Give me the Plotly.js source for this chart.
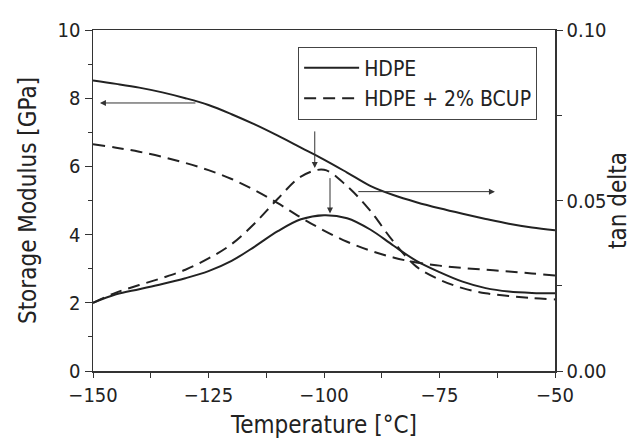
<!DOCTYPE html>
<html>
<head>
<meta charset="utf-8">
<script src="https://cdn.plot.ly/plotly-3.0.1.min.js"></script>
<style>
html,body{margin:0;padding:0;background:#fff;}
#chart{width:632px;height:444px;}
</style>
</head>
<body>
<div id="chart"></div>
<script>
// Temperature [°C]
const temps = [-150,-145,-140,-135,-130,-125,-120,-115,-110,-105,-100,-95,-90,-85,-80,-75,-70,-65,-60,-55,-50];
// Storage modulus [GPa]
const modHDPE = [8.52,8.42,8.31,8.17,8.0,7.8,7.53,7.23,6.9,6.55,6.2,5.82,5.43,5.16,4.95,4.77,4.61,4.46,4.32,4.21,4.13];
const modBCUP = [6.65,6.55,6.43,6.28,6.1,5.89,5.63,5.3,4.92,4.5,4.12,3.79,3.53,3.33,3.18,3.09,3.02,2.97,2.92,2.86,2.8];
// tan delta
const tanHDPE = [0.0200,0.0225,0.0240,0.0255,0.0272,0.0293,0.0323,0.0365,0.0410,0.0445,0.0457,0.0448,0.0415,0.0368,0.0323,0.0290,0.0262,0.0243,0.0233,0.0229,0.0228];
const tanBCUP = [0.0200,0.0230,0.0252,0.0273,0.0297,0.0330,0.0372,0.0433,0.0505,0.0570,0.0590,0.0542,0.0470,0.0380,0.0306,0.0268,0.0243,0.0228,0.0220,0.0214,0.0210];

const seriesNames = ['HDPE', 'HDPE + 2% BCUP'];
const xTickVals = [-150,-125,-100,-75,-50];
const yTickVals = [0,2,4,6,8,10];
const y2TickVals = [0,0.05,0.10];

const FONT = '"Liberation Sans Narrow", "DejaVu Sans Condensed", "Arial Narrow", sans-serif';
const solid = {color:'#222', width:2, shape:'spline', smoothing:1, dash:'solid'};
const dashed = {color:'#222', width:2, shape:'spline', smoothing:1, dash:'12px,7px'};

const traces = [
  {x:temps, y:modHDPE, mode:'lines', line:solid, name:seriesNames[0], showlegend:true, xaxis:'x', yaxis:'y'},
  {x:temps, y:modBCUP, mode:'lines', line:dashed, name:seriesNames[1], showlegend:true, xaxis:'x', yaxis:'y'},
  {x:temps, y:tanHDPE, mode:'lines', line:solid, name:seriesNames[0], showlegend:false, xaxis:'x', yaxis:'y2'},
  {x:temps, y:tanBCUP, mode:'lines', line:dashed, name:seriesNames[1], showlegend:false, xaxis:'x', yaxis:'y2'}
];

function arrow(hx, hy, tx, ty){
  return {x:hx, y:hy, ax:tx, ay:ty, xref:'x', yref:'y', axref:'x', ayref:'y',
    text:'', showarrow:true, arrowhead:2, arrowsize:1.2, arrowwidth:1, arrowcolor:'#333', standoff:0, startstandoff:0};
}

const layout = {
  width:632, height:444,
  margin:{l:93, r:77, t:30, b:73},
  paper_bgcolor:'#fff', plot_bgcolor:'#fff',
  font:{family:FONT, size:20, color:'#222'},
  showlegend:true,
  legend:{x:0.444, y:0.951, xanchor:'left', yanchor:'top', bgcolor:'#fff', bordercolor:'#444', borderwidth:1,
    font:{family:FONT, size:21, color:'#222'}, itemwidth:55, tracegroupgap:0},
  xaxis:{range:[-150,-50], tickvals:xTickVals, ticks:'outside', ticklen:5, tickwidth:1, tickcolor:'#333',
    showline:true, mirror:true, linecolor:'#333', linewidth:1.5, showgrid:false, zeroline:false,
    minor:{dtick:12.5, ticks:'outside', ticklen:5, tickcolor:'#333', showgrid:false},
    title:{text:'Temperature [°C]', font:{family:FONT, size:24}, standoff:10},
    tickfont:{family:FONT, size:20}},
  yaxis:{range:[0,10], tickvals:yTickVals, ticks:'outside', ticklen:7, tickwidth:1, tickcolor:'#333',
    showline:true, linecolor:'#333', linewidth:1.5, showgrid:false, zeroline:false,
    minor:{dtick:1, ticks:'outside', ticklen:4, tickcolor:'#333', showgrid:false},
    title:{text:'Storage Modulus [GPa]', font:{family:FONT, size:24}, standoff:14},
    tickfont:{family:FONT, size:20}},
  yaxis2:{range:[0,0.10], overlaying:'y', side:'right', tickvals:y2TickVals, tickformat:'.2f',
    ticks:'outside', ticklen:6, tickwidth:1, tickcolor:'#333',
    showline:true, linecolor:'#333', linewidth:1.5, showgrid:false, zeroline:false,
    minor:{dtick:0.025, ticks:'outside', ticklen:5, tickcolor:'#333', showgrid:false},
    title:{text:'tan delta', font:{family:FONT, size:24}, standoff:8},
    tickfont:{family:FONT, size:20}},
  annotations:[
    arrow(-148.5, 7.86, -127.5, 7.86),
    arrow(-63, 5.26, -92.9, 5.26),
    arrow(-102.0, 5.95, -102.0, 7.07),
    arrow(-98.7, 4.62, -98.7, 5.7)
  ]
};

Plotly.newPlot('chart', traces, layout, {staticPlot:true, displayModeBar:false});
</script>
</body>
</html>
